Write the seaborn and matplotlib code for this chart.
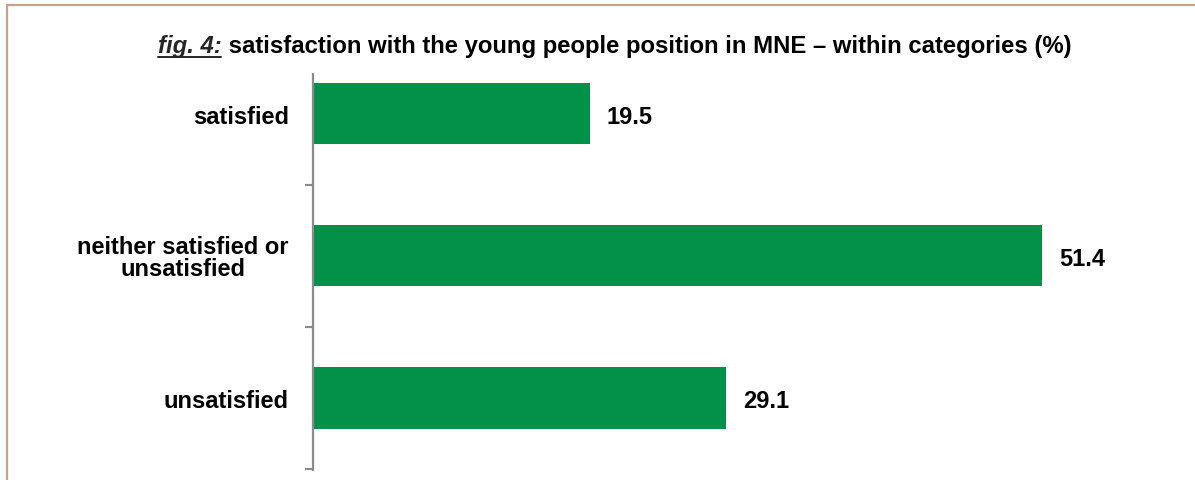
import matplotlib
matplotlib.use("Agg")
import matplotlib.pyplot as plt
from matplotlib.lines import Line2D
import seaborn as sns
import pandas as pd

# Survey shares, percent within categories
categories = ["satisfied", "neither satisfied or\nunsatisfied", "unsatisfied"]
values = [19.5, 51.4, 29.1]
value_labels = ["19.5", "51.4", "29.1"]

title_prefix = "fig. 4:"
title_main = "satisfaction with the young people position in MNE \u2013 within categories (%)"

sns.set_theme(style="white")
plt.rcParams["font.family"] = ["Liberation Sans", "DejaVu Sans"]

W, H = 1195, 481
fig = plt.figure(figsize=(W / 100, H / 100), dpi=100)
fig.patch.set_facecolor("white")

# plot area in pixels: left 313, right 1164, top 75, bottom 471
ax = fig.add_axes([313 / W, (H - 471) / H, (1164 - 313) / W, (471 - 75) / H])

df = pd.DataFrame({"category": categories, "value": values})
sns.barplot(data=df, x="value", y="category", orient="h", color="#03914a",
            saturation=1, width=0.43, ax=ax, edgecolor="none")

ax.set_xlim(0, 60)
ax.set_ylim(2.507, -0.28)
ax.set_xlabel("")
ax.set_ylabel("")
ax.set_xticks([])

for side in ["top", "right", "bottom"]:
    ax.spines[side].set_visible(False)
ax.spines["left"].set_color("#8c8c8c")
ax.spines["left"].set_linewidth(1.6)

# category names centred on the bars, separator ticks between them
ax.set_yticks(range(len(categories)))
ax.set_yticklabels(categories, fontsize=17, fontweight="bold", color="black",
                   multialignment="center", linespacing=0.95)
ax.tick_params(axis="y", which="major", length=0, pad=17.5)
for lab in ax.get_yticklabels():
    lab.set_y(lab.get_position()[1])
ax.set_yticks([0.5, 1.5, 2.5], minor=True)
ax.tick_params(axis="y", which="minor", length=5.5, width=1.6, color="#8c8c8c",
               direction="out", left=True)

for i, (v, lab) in enumerate(zip(values, value_labels)):
    ax.annotate(lab, xy=(v, i), xytext=(12.5, -2), textcoords="offset points",
                ha="left", va="center", fontsize=17, fontweight="bold", color="black")

# two-part title: underlined italic prefix followed by the bold heading
ty = 1 - 47 / H
tsize = 17.2
t1 = fig.text(0, ty, title_prefix, fontsize=tsize, fontweight="bold", fontstyle="italic",
              color="#262626", ha="left", va="center")
t2 = fig.text(0, ty, " " + title_main, fontsize=tsize, fontweight="bold",
              color="black", ha="left", va="center")
fig.canvas.draw()
r = fig.canvas.get_renderer()
b1 = t1.get_window_extent(r)
b2 = t2.get_window_extent(r)
total = b1.width + b2.width
x0 = (615 - total / 2)
t1.set_x(x0 / W)
t2.set_x((x0 + b1.width) / W)
uy = (H - 58) / H
fig.add_artist(Line2D([x0 / W, (x0 + b1.width - 1) / W], [uy, uy],
                      transform=fig.transFigure, color="#262626", lw=1.4))

# frame lines along the top and left edges
fig.add_artist(Line2D([7 / W, 1.0], [1 - 6 / H, 1 - 6 / H], transform=fig.transFigure,
                      color="#c4a488", lw=1.6))
fig.add_artist(Line2D([7 / W, 7 / W], [0, 1 - 6 / H], transform=fig.transFigure,
                      color="#c4a488", lw=1.6))

fig.savefig("out.png", dpi=100, facecolor="white")
